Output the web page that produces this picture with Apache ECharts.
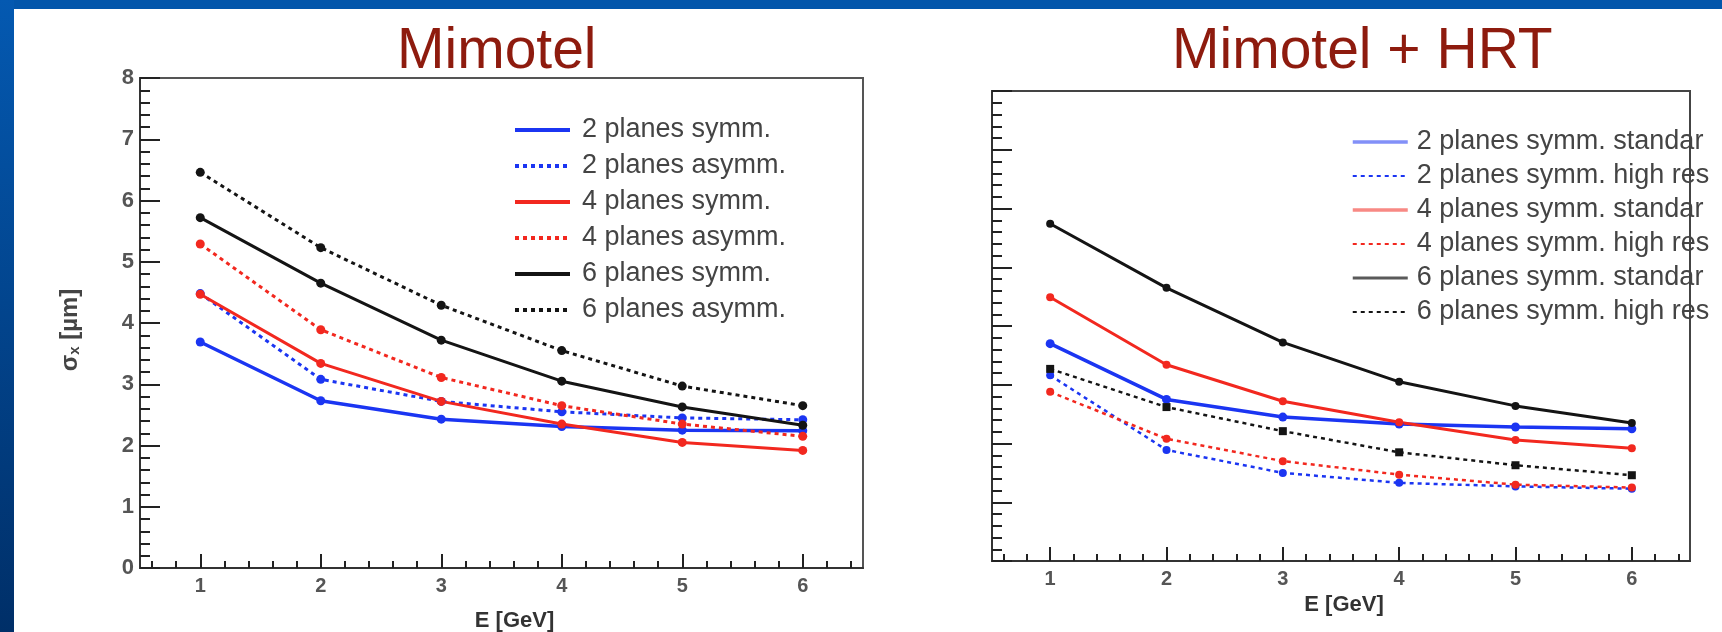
<!DOCTYPE html>
<html>
<head>
<meta charset="utf-8">
<script src="https://cdn.jsdelivr.net/npm/echarts@6/dist/echarts.min.js"></script>
<style>
html, body { margin: 0; padding: 0; background: #0356ab; }
#main { width: 1722px; height: 632px; }
</style>
</head>
<body>
<div id="main"></div>
<script>
// energies (x) and tick labels
var energies = [1, 2, 3, 4, 5, 6];
var xTickLabels = ['1', '2', '3', '4', '5', '6'];

// left panel: Mimotel, sigma_x in um
var mimoNames = ['2 planes symm.', '2 planes asymm.', '4 planes symm.', '4 planes asymm.', '6 planes symm.', '6 planes asymm.'];
var mimo2Symm  = [3.69, 2.73, 2.43, 2.31, 2.25, 2.24];
var mimo2Asymm = [4.48, 3.08, 2.72, 2.55, 2.45, 2.42];
var mimo4Symm  = [4.47, 3.34, 2.72, 2.35, 2.05, 1.92];
var mimo4Asymm = [5.29, 3.89, 3.11, 2.65, 2.35, 2.15];
var mimo6Symm  = [5.72, 4.65, 3.72, 3.05, 2.63, 2.33];
var mimo6Asymm = [6.46, 5.23, 4.29, 3.55, 2.97, 2.65];

// right panel: Mimotel + HRT
var hrtNames = ['2 planes symm. standard', '2 planes symm. high res', '4 planes symm. standard', '4 planes symm. high res', '6 planes symm. standard', '6 planes symm. high res'];
var hrt2Std = [3.70, 2.75, 2.45, 2.33, 2.28, 2.25];
var hrt2Hr  = [3.16, 1.89, 1.50, 1.33, 1.27, 1.23];
var hrt4Std = [4.49, 3.34, 2.72, 2.36, 2.06, 1.92];
var hrt4Hr  = [2.88, 2.08, 1.70, 1.47, 1.30, 1.25];
var hrt6Std = [5.74, 4.65, 3.72, 3.05, 2.64, 2.35];
var hrt6Hr  = [3.27, 2.62, 2.21, 1.85, 1.63, 1.46];

var BLUE = '#1b35f2', RED = '#f2281f', BLACK = '#141414';
var FONT = 'Liberation Sans, Arial, Helvetica, sans-serif';

// minor x ticks every 0.2 (ROOT style), skipping the integer ones
var minorX = [];
for (var k = 6; k <= 64; k += 2) {
  if (k % 10 !== 0) minorX.push(k / 10);
}

function pairs(vals) {
  return energies.map(function (e, i) { return [e, vals[i]]; });
}

function line(name, vals, color, dashed, idx, width, size, symbol) {
  return {
    type: 'line', name: name,
    xAxisIndex: idx * 2, yAxisIndex: idx,
    data: pairs(vals),
    symbol: symbol || 'circle', symbolSize: size,
    itemStyle: { color: color },
    lineStyle: { color: color, width: width, type: dashed ? [4, 4] : 'solid' },
    emphasis: { disabled: true },
    animation: false
  };
}

function majorX(grid, nameGap) {
  return {
    gridIndex: grid, type: 'value', min: 0.5, max: 6.5, position: 'bottom',
    axisLine: { show: true, onZero: false, lineStyle: { color: '#333', width: 2 } },
    axisTick: { show: true, inside: true, length: 14, customValues: energies, lineStyle: { color: '#222', width: 2 } },
    axisLabel: {
      customValues: energies, margin: 8, fontSize: 20, fontWeight: 'bold', color: '#555', fontFamily: FONT,
      formatter: function (v) { return xTickLabels[energies.indexOf(v)]; }
    },
    splitLine: { show: false },
    name: 'E [GeV]', nameLocation: 'middle', nameGap: nameGap,
    nameTextStyle: { fontSize: 22, fontWeight: 'bold', color: '#333', fontFamily: FONT, padding: [0, 0, 0, grid === 0 ? 26 : 6] }
  };
}

function minorXAxis(grid) {
  return {
    gridIndex: grid, type: 'value', min: 0.5, max: 6.5, position: 'bottom',
    axisLine: { show: false },
    axisTick: { show: true, inside: true, length: 7, customValues: minorX, lineStyle: { color: '#222', width: 2 } },
    axisLabel: { show: false },
    splitLine: { show: false }
  };
}

function yAxis(grid, labels) {
  var ax = {
    gridIndex: grid, type: 'value', min: 0, max: 8, interval: 1,
    axisLine: { show: true, lineStyle: { color: '#333', width: 2 } },
    axisTick: { show: true, inside: true, length: 20, lineStyle: { color: '#222', width: 2 } },
    minorTick: { show: true, splitNumber: 5, length: 10, lineStyle: { color: '#222', width: 2 } },
    axisLabel: { show: labels, margin: 6, fontSize: 22, fontWeight: 'bold', color: '#555', fontFamily: FONT },
    splitLine: { show: false }
  };
  if (labels) {
    ax.name = 'σ{s|x} [µm]';
    ax.nameLocation = 'middle';
    ax.nameRotate = 90;
    ax.nameGap = 58;
    ax.nameTextStyle = {
      fontSize: 24, fontWeight: 'bold', color: '#444', fontFamily: FONT, padding: [0, 14, 0, 0],
      rich: { s: { fontSize: 15, fontWeight: 'bold', color: '#444', verticalAlign: 'bottom', padding: [8, 0, 0, 0] } }
    };
  }
  return ax;
}

var chart = echarts.init(document.getElementById('main'), null, { renderer: 'canvas' });

chart.setOption({
  backgroundColor: 'transparent',
  animation: false,
  graphic: [
    { type: 'rect', z: -10, shape: { x: 0, y: 0, width: 14, height: 632 },
      style: { fill: new echarts.graphic.LinearGradient(0, 0, 0, 1, [{ offset: 0, color: '#0459b1' }, { offset: 1, color: '#002f68' }]) } },
    { type: 'rect', z: -10, shape: { x: 14, y: 9, width: 1708, height: 623 }, style: { fill: '#ffffff' } }
  ],
  title: [
    { text: 'Mimotel', left: 392, top: 19,
      textStyle: { fontSize: 57, fontWeight: 'normal', color: '#8e1b0e', fontFamily: FONT } },
    { text: 'Mimotel + HRT', left: 1167, top: 19,
      textStyle: { fontSize: 57, fontWeight: 'normal', color: '#8e1b0e', fontFamily: FONT } }
  ],
  legend: [
    { orient: 'vertical', left: 508, top: 110, itemWidth: 55, itemHeight: 14, itemGap: 6,
      data: mimoNames, selectedMode: false,
      itemStyle: { opacity: 0 }, lineStyle: { width: 4 },
      textStyle: { fontSize: 27, lineHeight: 30, color: '#444', fontFamily: FONT, padding: [0, 0, 0, 7] } },
    { orient: 'vertical', left: 1346, top: 122, itemWidth: 55, itemHeight: 14, itemGap: 4,
      data: [
        { name: hrtNames[0], lineStyle: { opacity: 0.55, width: 3.5 } },
        { name: hrtNames[1] },
        { name: hrtNames[2], lineStyle: { opacity: 0.55, width: 3.5 } },
        { name: hrtNames[3] },
        { name: hrtNames[4], lineStyle: { opacity: 0.7, width: 3 } },
        { name: hrtNames[5] }
      ],
      selectedMode: false,
      itemStyle: { opacity: 0 }, lineStyle: { width: 2 },
      textStyle: { fontSize: 27, lineHeight: 30, color: '#444', fontFamily: FONT, padding: [0, 0, 0, 4],
        width: 297, overflow: 'truncate', ellipsis: '' } }
  ],
  grid: [
    { left: 140, top: 78, width: 723, height: 490, show: true, borderColor: '#555', borderWidth: 2,
      backgroundColor: '#fff', outerBoundsMode: 'none' },
    { left: 992, top: 91, width: 698, height: 470, show: true, borderColor: '#444', borderWidth: 2,
      backgroundColor: '#fff', outerBoundsMode: 'none' }
  ],
  xAxis: [majorX(0, 42), minorXAxis(0), majorX(1, 31), minorXAxis(1)],
  yAxis: [yAxis(0, true), yAxis(1, false)],
  series: [
    line(mimoNames[0], mimo2Symm, BLUE, false, 0, 3.5, 9),
    line(mimoNames[1], mimo2Asymm, BLUE, true, 0, 3, 9),
    line(mimoNames[2], mimo4Symm, RED, false, 0, 3, 9),
    line(mimoNames[3], mimo4Asymm, RED, true, 0, 3, 9),
    line(mimoNames[4], mimo6Symm, BLACK, false, 0, 3, 9),
    line(mimoNames[5], mimo6Asymm, BLACK, true, 0, 3, 9),
    line(hrtNames[0], hrt2Std, BLUE, false, 1, 3.5, 9),
    line(hrtNames[1], hrt2Hr, BLUE, true, 1, 2.5, 8),
    line(hrtNames[2], hrt4Std, RED, false, 1, 3, 8),
    line(hrtNames[3], hrt4Hr, RED, true, 1, 2.5, 8),
    line(hrtNames[4], hrt6Std, BLACK, false, 1, 3, 8),
    line(hrtNames[5], hrt6Hr, BLACK, true, 1, 2.5, 8, 'rect')
  ]
});
</script>
</body>
</html>
